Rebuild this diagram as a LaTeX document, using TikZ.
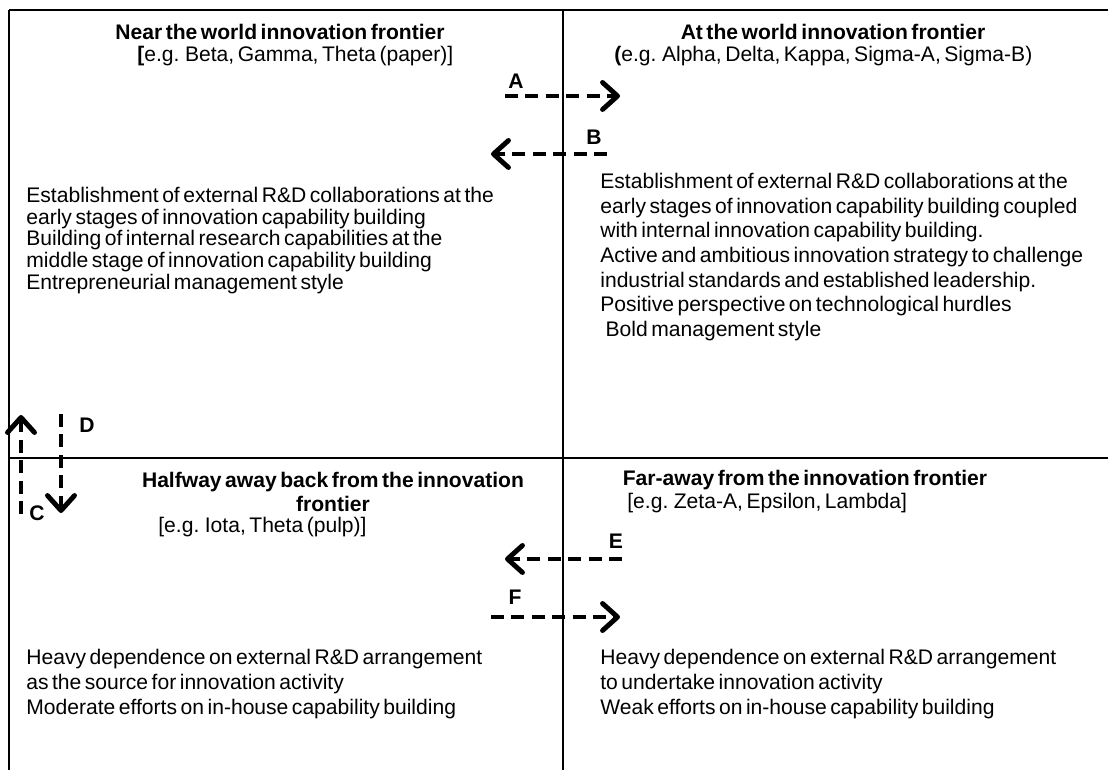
\documentclass[tikz,border=0pt]{standalone}
\usepackage{fontspec}
\setmainfont{Liberation Sans}[WordSpace=0.6]
\usetikzlibrary{arrows.meta}

\begin{document}
\begin{tikzpicture}[x=0.02cm,y=-0.02cm,
    every node/.style={inner sep=0pt,font=\fontsize{12}{14}\selectfont},
    head/.style={font=\fontsize{12}{13.7}\selectfont\bfseries},
    body/.style={anchor=north west,align=left},
    tag/.style={font=\fontsize{12}{14}\selectfont\bfseries},
    move/.style={line width=2.8pt,dash pattern=on 7.4pt off 4.2pt,
                 -{Straight Barb[length=3mm,width=5.4mm,round]}}]
  \useasboundingbox (0,0) rectangle (1108,770);

% quadrant lines
  \draw[line width=1pt] (9,10) -- (1108,10);
  \draw[line width=1pt] (9,10) -- (9,770);
  \draw[line width=0.8pt] (9,458) -- (1108,458);
  \draw[line width=0.6pt] (563,10) -- (563,770);

% upper left
  \node[head] (nearTitle) at (280,32) {Near the world innovation frontier};
  \node[anchor=west] (nearEg) at (137,56) {\textbf{[}e.g. Beta, Gamma, Theta (paper)]};
  \node[body,font=\fontsize{12}{12.3}\selectfont] (nearBody) at (26,187)
    {Establishment of external R\&D collaborations at the\\
     early stages of innovation capability building\\
     Building of internal research capabilities at the\\
     middle stage of innovation capability building\\
     Entrepreneurial management style};

% upper right
  \node[head] (atTitle) at (833,32) {At the world innovation frontier};
  \node[anchor=west] (atEg) at (614,56) {\textbf{(}e.g. Alpha, Delta, Kappa, Sigma-A, Sigma-B)};
  \node[body,font=\fontsize{12}{14}\selectfont] (atBody) at (600,173)
    {Establishment of external R\&D collaborations at the\\
     early stages of innovation capability building coupled\\
     with internal innovation capability building.\\
     Active and ambitious innovation strategy to challenge\\
     industrial standards and established leadership.\\
     Positive perspective on technological hurdles\\
     \hspace{3pt}Bold management style};

% lower left
  \node[head,align=center,anchor=north] (halfTitle) at (333,472)
    {Halfway away back from the innovation\\frontier};
  \node[anchor=west] (halfEg) at (158,527) {[e.g. Iota, Theta (pulp)]};
  \node[body,font=\fontsize{12}{14.2}\selectfont] (halfBody) at (26,649)
    {Heavy dependence on external R\&D arrangement\\
     as the source for innovation activity\\
     Moderate efforts on in-house capability building};

% lower right
  \node[head] (farTitle) at (805,480) {Far-away from the innovation frontier};
  \node[anchor=west] (farEg) at (627,503) {[e.g. Zeta-A, Epsilon, Lambda]};
  \node[body,font=\fontsize{12}{14.2}\selectfont] (farBody) at (600,649)
    {Heavy dependence on external R\&D arrangement\\
     to undertake innovation activity\\
     Weak efforts on in-house capability building};

% transitions between quadrants
  \coordinate (aTail) at (505,96);  \coordinate (aHead) at (620,96);
  \coordinate (bTail) at (607,154); \coordinate (bHead) at (491,154);
  \coordinate (cTail) at (21,514);  \coordinate (cHead) at (21,415);
  \coordinate (dTail) at (61,414);  \coordinate (dHead) at (61,513);
  \coordinate (eTail) at (622,559); \coordinate (eHead) at (505,559);
  \coordinate (fTail) at (491,617); \coordinate (fHead) at (620,617);
  \draw[move] (aTail) -- (aHead);
  \draw[move] (bTail) -- (bHead);
  \draw[move] (cTail) -- (cHead);
  \draw[move] (dTail) -- (dHead);
  \draw[move] (eTail) -- (eHead);
  \draw[move] (fTail) -- (fHead);
  \node[tag] (aLabel) at (516,81)  {A};
  \node[tag] (bLabel) at (594,137) {B};
  \node[tag] (cLabel) at (37,513)  {C};
  \node[tag] (dLabel) at (87,425)  {D};
  \node[tag] (eLabel) at (616,541) {E};
  \node[tag] (fLabel) at (515,597) {F};
\end{tikzpicture}
\end{document}
